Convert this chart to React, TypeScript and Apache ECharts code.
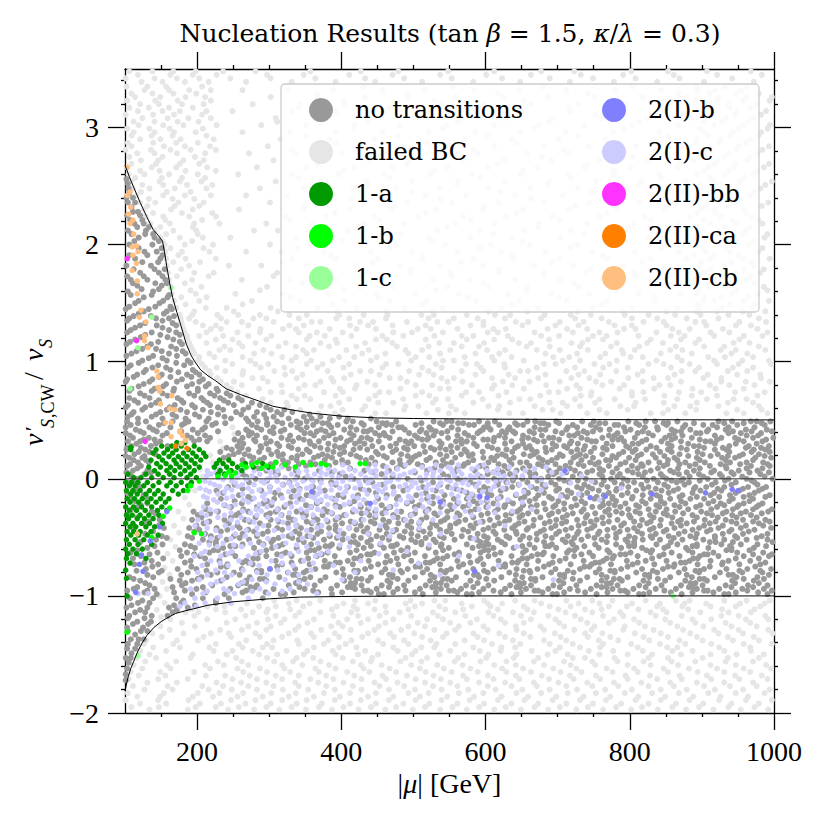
import React, { useEffect, useRef } from 'react';
import * as echarts from 'echarts';

const FONT = '"Liberation Serif", "DejaVu Serif", serif';
const TEXT_FONT = '"DejaVu Serif", "Liberation Serif", serif';

// ---------- axis ticks ----------
const X_MAJOR = [200, 400, 600, 800, 1000];
const X_MINOR = [150, 250, 300, 350, 450, 500, 550, 650, 700, 750, 850, 900, 950];
const Y_MAJOR = [-2, -1, 0, 1, 2, 3];
const Y_MINOR = [-1.8, -1.6, -1.4, -1.2, -0.8, -0.6, -0.4, -0.2, 0.2, 0.4, 0.6, 0.8, 1.2, 1.4, 1.6, 1.8, 2.2, 2.4, 2.6, 2.8, 3.2, 3.4];

// ---------- boundary curves ----------
const upperCurve = [[100, 2.68], [106, 2.58], [112, 2.49], [121, 2.36], [130, 2.24], [139, 2.13], [146, 2.08], [152, 2.03], [155, 1.93], [158, 1.81], [162, 1.67], [166, 1.55], [172, 1.42], [178, 1.3], [185, 1.15], [192, 1.05], [198, 0.99], [205, 0.93], [215, 0.88], [225, 0.84], [240, 0.77], [260, 0.72], [283, 0.67], [305, 0.62], [330, 0.59], [360, 0.56], [400, 0.535], [450, 0.52], [500, 0.515], [600, 0.51], [800, 0.505], [1000, 0.503]];
const lowerCurve = [[100, -1.81], [104, -1.7], [108, -1.62], [112, -1.56], [118, -1.47], [124, -1.4], [130, -1.34], [140, -1.27], [150, -1.22], [158, -1.19], [170, -1.15], [182, -1.13], [195, -1.11], [215, -1.08], [250, -1.05], [300, -1.025], [343, -1.01], [400, -1.005], [500, -1.0], [1000, -1.0]];
const zeroLine = [[100, 0], [1000, 0]];

// ---------- scatter data: rows of [y, x-values] ----------
type Rows = [number, number[]][];

const noTransitionsRows: Rows = [
  [2.56, [102]], [2.52, [104]], [2.48, [105]], [2.44, [106]], [2.4, [102, 111]], [2.36, [104, 114]], [2.32, [109]], [2.28, [111, 118]],
  [2.25, [103, 121]], [2.21, [107, 124]], [2.18, [113, 126]], [2.15, [117, 133]], [2.12, [104, 129]], [2.09, [109, 128, 139]],
  [2.06, [119, 141]], [2.03, [113, 147]], [2.0, [106, 138]], [1.97, [119, 151]], [1.94, [127, 144]], [1.91, [106, 131, 152]],
  [1.88, [114, 149]], [1.85, [124, 146]], [1.82, [102, 136]], [1.79, [112, 141, 155]], [1.76, [121, 147]], [1.73, [103, 126, 152]],
  [1.7, [108, 131, 156]], [1.67, [111, 142, 158]], [1.65, [117, 151]], [1.62, [123, 147]], [1.6, [104, 139]], [1.57, [108, 137, 161]],
  [1.55, [126, 159]], [1.52, [119, 153]], [1.5, [114, 148]], [1.47, [106, 142, 163]], [1.45, [101, 133, 165]], [1.43, [126, 158]],
  [1.41, [119, 154]], [1.39, [112, 136, 168]], [1.37, [106, 143, 161]], [1.35, [103, 152]], [1.33, [128, 166]], [1.31, [121, 144, 171]],
  [1.29, [114, 152]], [1.27, [108, 161]], [1.25, [103, 137, 171]], [1.23, [128, 149, 176]], [1.21, [122, 159]], [1.19, [114, 167]],
  [1.17, [107, 146, 176]], [1.15, [102, 136, 179]], [1.13, [131, 164]], [1.11, [124, 143, 171]], [1.09, [116, 151, 180]],
  [1.07, [109, 161, 184]], [1.05, [102, 139, 172]], [1.03, [133, 152]], [1.01, [124, 158, 187]], [0.99, [119, 171, 191]],
  [0.97, [108, 146, 182]], [0.95, [104, 138, 157]], [0.93, [129, 163, 194]], [0.91, [126, 174, 198]], [0.89, [117, 151, 186, 203]],
  [0.87, [112, 147, 163, 192]], [0.85, [103, 138, 179, 208]], [0.83, [101, 134, 172, 203]], [0.81, [126, 157, 193, 216]],
  [0.79, [119, 153, 186, 212]], [0.77, [109, 141, 168, 201, 227]], [0.75, [106, 137, 167, 201, 229]], [0.73, [121, 152, 189, 218, 241]],
  [0.71, [127, 159, 196, 224, 246]], [0.69, [106, 134, 173, 206, 232, 257]], [0.67, [113, 147, 178, 209, 237, 262]],
  [0.65, [118, 143, 181, 214, 243, 276]], [0.63, [104, 136, 169, 193, 218, 251, 287]],
  [0.61, [101, 128, 162, 197, 229, 271, 296]], [0.59, [124, 158, 177, 208, 236, 264, 302, 321]],
  [0.57, [112, 149, 186, 219, 254, 283, 311, 332]], [0.55, [109, 143, 166, 197, 229, 261, 293, 317, 356]],
  [0.53, [104, 137, 171, 203, 238, 279, 306, 348, 371, 397]], [0.515, [118, 152, 184, 216, 247, 268, 296, 327, 359, 384, 409, 441]],
  [0.49, [103, 129, 166, 188, 213, 271, 284, 311, 338, 352, 366, 407, 416, 449, 476, 528, 546, 553, 591, 613, 658, 669, 698, 734, 750, 798, 822, 835, 866, 923, 942, 968, 976, 995]],
  [0.475, [118, 154, 183, 226, 239, 297, 318, 343, 374, 381, 428, 457, 463, 511, 537, 562, 569, 603, 641, 676, 681, 702, 758, 766, 809, 847, 853, 889, 931, 958, 983]],
  [0.46, [108, 147, 179, 221, 276, 297, 330, 361, 383, 395, 431, 462, 470, 503, 541, 577, 584, 619, 644, 652, 687, 721, 746, 779, 784, 813, 851, 877, 902, 915, 949, 987]],
  [0.44, [101, 134, 163, 211, 283, 306, 339, 352, 386, 413, 452, 479, 484, 522, 553, 598, 604, 633, 668, 714, 727, 753, 792, 821, 838, 874, 921, 937, 973]],
  [0.42, [115, 139, 194, 207, 268, 289, 321, 344, 372, 404, 421, 441, 488, 511, 525, 562, 596, 607, 631, 676, 683, 712, 759, 772, 801, 839, 858, 884, 909, 933, 961, 990]],
  [0.405, [121, 144, 178, 229, 271, 301, 316, 366, 378, 431, 436, 471, 509, 531, 547, 592, 623, 638, 661, 697, 736, 749, 794, 818, 863, 871, 907, 943, 969, 997]],
  [0.39, [101, 126, 158, 201, 257, 276, 306, 349, 357, 389, 412, 447, 459, 494, 518, 539, 571, 589, 628, 641, 667, 706, 728, 741, 783, 811, 826, 861, 892, 898, 937, 954, 982]],
  [0.37, [107, 152, 186, 211, 272, 283, 329, 362, 383, 417, 453, 461, 502, 528, 561, 576, 619, 652, 678, 716, 723, 771, 779, 832, 855, 873, 918, 962, 978]],
  [0.35, [111, 133, 192, 218, 263, 295, 317, 341, 376, 399, 428, 436, 467, 506, 521, 548, 583, 612, 627, 659, 688, 694, 733, 762, 788, 807, 849, 863, 886, 927, 946, 971, 999]],
  [0.335, [126, 141, 203, 252, 279, 326, 348, 392, 413, 441, 481, 512, 519, 566, 597, 603, 651, 667, 702, 741, 776, 784, 823, 858, 897, 921, 951, 989]],
  [0.32, [104, 121, 149, 196, 214, 259, 281, 302, 333, 356, 369, 408, 425, 452, 489, 497, 536, 559, 574, 611, 636, 672, 681, 719, 747, 753, 792, 817, 844, 871, 905, 912, 958, 984]],
  [0.3, [116, 143, 264, 296, 311, 357, 382, 419, 432, 476, 493, 539, 567, 584, 627, 652, 693, 717, 728, 768, 804, 812, 853, 881, 918, 947, 976]],
  [0.28, [109, 136, 159, 256, 288, 314, 327, 363, 391, 404, 443, 468, 501, 514, 552, 588, 603, 645, 661, 698, 709, 738, 776, 795, 829, 858, 889, 896, 938, 965, 993]],
  [0.265, [103, 122, 241, 262, 289, 331, 371, 398, 426, 457, 487, 524, 537, 561, 609, 641, 656, 683, 713, 751, 763, 799, 837, 871, 903, 929, 961, 982]],
  [0.25, [102, 128, 248, 271, 299, 340, 352, 381, 417, 436, 476, 492, 529, 545, 571, 617, 629, 664, 692, 727, 736, 768, 808, 823, 853, 879, 918, 934, 972, 988]],
  [0.23, [119, 134, 232, 258, 286, 311, 356, 389, 404, 448, 471, 516, 553, 574, 596, 637, 671, 684, 719, 746, 791, 804, 842, 858, 894, 938, 969, 994]],
  [0.21, [113, 142, 251, 266, 303, 319, 346, 374, 398, 413, 451, 483, 508, 537, 566, 582, 623, 653, 667, 703, 731, 762, 785, 816, 832, 869, 901, 922, 957, 979]],
  [0.195, [101, 127, 244, 273, 313, 339, 368, 381, 421, 459, 492, 503, 546, 577, 616, 628, 662, 707, 726, 739, 776, 811, 848, 881, 912, 936, 952, 987]],
  [0.18, [106, 124, 237, 278, 293, 331, 362, 387, 426, 442, 463, 499, 523, 558, 597, 608, 639, 674, 699, 722, 749, 781, 799, 836, 862, 893, 928, 946, 974, 996]],
  [0.16, [112, 129, 263, 287, 319, 338, 377, 401, 434, 481, 497, 518, 541, 583, 612, 633, 679, 692, 733, 767, 773, 808, 853, 866, 897, 933, 971]],
  [0.14, [118, 133, 276, 309, 326, 357, 392, 409, 447, 471, 494, 531, 553, 576, 604, 648, 657, 686, 718, 745, 757, 794, 826, 841, 877, 904, 939, 962, 985]],
  [0.125, [107, 302, 341, 364, 402, 438, 482, 506, 546, 571, 618, 636, 673, 697, 729, 752, 787, 816, 852, 869, 891, 926, 953, 991]],
  [0.11, [103, 122, 318, 351, 383, 458, 487, 512, 539, 569, 593, 626, 661, 679, 711, 736, 771, 803, 818, 847, 883, 911, 933, 968, 994]],
  [0.09, [117, 284, 327, 412, 477, 529, 561, 601, 631, 652, 703, 717, 758, 782, 811, 839, 867, 897, 934, 962, 984]],
  [0.07, [111, 131, 296, 337, 369, 432, 466, 519, 585, 618, 643, 688, 724, 748, 763, 797, 829, 856, 889, 917, 951, 977]],
  [0.055, [102, 136, 308, 387, 444, 502, 557, 611, 624, 661, 698, 712, 741, 776, 804, 821, 861, 879, 913, 941, 966, 993]],
  [0.04, [107, 127, 263, 312, 398, 456, 541, 603, 634, 669, 694, 731, 758, 786, 812, 843, 868, 896, 925, 944, 981]],
  [0.02, [109, 268, 339, 406, 471, 548, 593, 641, 663, 687, 721, 762, 783, 818, 846, 883, 902, 928, 956, 987]],
  [0.0, [116, 281, 349, 417, 492, 561, 612, 651, 677, 702, 739, 774, 791, 833, 851, 874, 908, 937, 962, 998]],
  [-0.015, [113, 297, 371, 434, 511, 567, 619, 638, 672, 709, 728, 764, 797, 824, 858, 871, 897, 932, 969]],
  [-0.03, [104, 272, 328, 386, 443, 527, 579, 629, 658, 691, 716, 752, 779, 806, 839, 865, 882, 919, 947, 973]],
  [-0.05, [106, 252, 319, 392, 457, 537, 586, 617, 646, 679, 697, 737, 761, 789, 816, 848, 876, 914, 941, 977]],
  [-0.07, [121, 243, 301, 361, 409, 472, 513, 548, 598, 637, 664, 683, 727, 743, 769, 798, 826, 853, 891, 906, 931, 964, 989]],
  [-0.085, [118, 263, 342, 427, 492, 559, 604, 628, 671, 702, 733, 748, 782, 819, 836, 867, 889, 922, 957, 984]],
  [-0.1, [112, 227, 289, 334, 377, 438, 486, 531, 567, 592, 621, 654, 698, 714, 757, 781, 809, 844, 861, 898, 927, 952, 979]],
  [-0.12, [103, 236, 308, 361, 448, 517, 574, 603, 659, 681, 719, 741, 771, 797, 829, 854, 887, 917, 947, 973]],
  [-0.14, [126, 258, 316, 352, 396, 423, 463, 504, 543, 582, 608, 642, 673, 706, 733, 764, 789, 818, 837, 873, 912, 939, 966, 994]],
  [-0.155, [129, 271, 331, 403, 479, 527, 591, 621, 654, 688, 713, 754, 776, 804, 842, 869, 893, 924, 958, 988]],
  [-0.17, [108, 233, 276, 307, 343, 389, 451, 477, 519, 556, 574, 617, 649, 669, 692, 724, 751, 776, 803, 829, 856, 884, 903, 943, 971]],
  [-0.19, [114, 252, 297, 371, 418, 498, 541, 583, 602, 632, 661, 701, 733, 762, 781, 817, 843, 871, 916, 938, 966]],
  [-0.21, [131, 214, 262, 292, 329, 366, 412, 436, 491, 527, 561, 589, 611, 638, 681, 709, 738, 771, 794, 822, 848, 877, 909, 926, 958, 984]],
  [-0.225, [122, 238, 303, 351, 392, 456, 508, 551, 576, 627, 652, 671, 697, 726, 763, 779, 809, 837, 862, 898, 931, 951, 979]],
  [-0.24, [118, 247, 283, 321, 358, 398, 427, 468, 502, 538, 569, 601, 626, 663, 694, 719, 748, 759, 787, 813, 841, 869, 892, 921, 949, 976]],
  [-0.26, [109, 212, 264, 312, 376, 437, 462, 521, 553, 586, 617, 648, 683, 709, 736, 771, 798, 826, 851, 881, 913, 943, 971, 997]],
  [-0.28, [137, 195, 229, 271, 309, 338, 381, 416, 447, 483, 517, 547, 579, 613, 644, 671, 701, 733, 766, 781, 808, 836, 863, 899, 934, 961, 992]],
  [-0.295, [142, 218, 258, 301, 346, 387, 428, 457, 502, 529, 561, 603, 636, 659, 692, 721, 752, 789, 814, 847, 874, 907, 929, 954, 983]],
  [-0.31, [103, 201, 254, 296, 317, 351, 374, 404, 439, 472, 496, 533, 564, 594, 628, 651, 688, 713, 741, 772, 799, 828, 852, 887, 914, 942, 968]],
  [-0.33, [117, 206, 247, 281, 327, 362, 397, 447, 478, 518, 547, 583, 617, 647, 676, 707, 739, 762, 801, 833, 859, 893, 922, 948, 976]],
  [-0.35, [148, 193, 238, 266, 302, 333, 367, 392, 428, 458, 487, 511, 543, 572, 606, 633, 667, 698, 727, 754, 783, 817, 843, 871, 904, 933, 957, 988]],
  [-0.365, [133, 217, 273, 313, 352, 381, 413, 441, 466, 497, 538, 563, 596, 627, 654, 689, 712, 746, 771, 806, 829, 867, 889, 919, 941, 971, 994]],
  [-0.38, [126, 209, 244, 287, 326, 359, 401, 419, 446, 479, 508, 526, 559, 587, 619, 646, 682, 706, 737, 763, 792, 824, 858, 879, 911, 948, 979]],
  [-0.4, [147, 199, 256, 299, 338, 369, 392, 427, 461, 492, 532, 551, 579, 612, 641, 666, 697, 729, 751, 788, 814, 842, 871, 903, 929, 961, 985]],
  [-0.42, [154, 189, 227, 259, 311, 344, 383, 411, 436, 463, 497, 523, 551, 583, 604, 637, 659, 691, 719, 747, 778, 806, 833, 862, 896, 923, 954, 996]],
  [-0.435, [112, 203, 242, 271, 318, 358, 392, 421, 453, 476, 508, 537, 569, 597, 626, 657, 681, 711, 741, 769, 797, 828, 851, 887, 912, 941, 973]],
  [-0.45, [139, 196, 233, 279, 298, 336, 372, 395, 431, 472, 488, 514, 546, 576, 611, 642, 676, 702, 729, 758, 786, 811, 847, 876, 907, 938, 965]],
  [-0.47, [128, 211, 263, 291, 342, 367, 403, 438, 463, 497, 523, 553, 589, 614, 643, 671, 698, 727, 756, 781, 817, 836, 868, 893, 929, 957, 991]],
  [-0.49, [151, 187, 219, 251, 283, 327, 353, 384, 417, 449, 481, 506, 537, 567, 598, 629, 652, 683, 714, 742, 769, 799, 829, 854, 884, 918, 946, 983]],
  [-0.505, [158, 193, 228, 259, 313, 332, 361, 394, 427, 457, 486, 517, 542, 579, 603, 633, 661, 692, 723, 751, 781, 807, 831, 861, 891, 918, 949, 976]],
  [-0.52, [143, 208, 241, 272, 306, 341, 376, 402, 441, 466, 497, 528, 557, 588, 617, 648, 671, 707, 733, 761, 794, 818, 842, 873, 902, 931, 962, 991]],
  [-0.54, [121, 217, 226, 286, 303, 348, 413, 419, 436, 503, 511, 531, 593, 601, 622, 681, 711, 719, 768, 797, 806, 857, 911, 919, 943, 998]],
  [-0.56, [152, 183, 226, 263, 292, 319, 358, 387, 423, 454, 477, 511, 539, 574, 604, 627, 661, 692, 721, 752, 781, 806, 837, 866, 893, 927, 954, 977]],
  [-0.575, [141, 191, 246, 253, 313, 378, 384, 441, 469, 472, 538, 591, 598, 651, 683, 688, 737, 799, 806, 853, 887, 893, 939, 989]],
  [-0.59, [131, 197, 236, 279, 304, 338, 369, 397, 431, 459, 492, 521, 549, 582, 611, 639, 668, 698, 726, 757, 788, 817, 848, 878, 909, 941, 972]],
  [-0.61, [117, 176, 223, 229, 296, 357, 363, 421, 483, 491, 541, 598, 604, 656, 716, 723, 769, 823, 831, 881, 934, 941, 966]],
  [-0.63, [108, 145, 186, 217, 248, 286, 323, 352, 381, 412, 446, 473, 502, 531, 563, 593, 621, 652, 681, 713, 744, 772, 801, 829, 858, 887, 916, 949, 985]],
  [-0.645, [134, 196, 239, 311, 318, 373, 436, 441, 493, 557, 563, 613, 672, 679, 733, 787, 794, 847, 903, 908, 971, 997]],
  [-0.66, [122, 178, 204, 253, 296, 331, 366, 391, 427, 463, 487, 516, 547, 577, 604, 636, 664, 694, 723, 749, 778, 811, 841, 869, 897, 923, 958, 993]],
  [-0.68, [111, 153, 211, 278, 284, 354, 418, 424, 477, 533, 541, 593, 651, 658, 711, 768, 776, 831, 888, 894, 947, 979]],
  [-0.7, [137, 191, 231, 268, 309, 344, 377, 409, 438, 468, 497, 528, 561, 589, 618, 646, 673, 703, 736, 763, 796, 822, 851, 883, 912, 937, 967]],
  [-0.715, [127, 183, 263, 271, 331, 392, 398, 461, 517, 523, 579, 637, 644, 693, 752, 758, 811, 871, 877, 929, 988]],
  [-0.73, [113, 146, 214, 242, 277, 318, 356, 384, 416, 451, 479, 508, 537, 569, 597, 627, 657, 688, 718, 747, 774, 804, 834, 862, 894, 928, 952, 981]],
  [-0.75, [138, 192, 233, 241, 311, 376, 381, 441, 503, 509, 563, 621, 627, 681, 737, 744, 797, 853, 861, 911, 974]],
  [-0.77, [129, 173, 199, 262, 301, 336, 364, 402, 433, 461, 492, 519, 552, 583, 611, 643, 672, 697, 731, 758, 788, 817, 846, 876, 903, 934, 963, 996]],
  [-0.785, [116, 151, 213, 283, 289, 352, 418, 423, 482, 538, 546, 598, 653, 661, 714, 773, 779, 832, 891, 897, 952, 981]],
  [-0.8, [147, 187, 228, 251, 289, 326, 348, 393, 422, 456, 484, 513, 544, 574, 603, 633, 662, 691, 722, 753, 779, 809, 838, 868, 896, 925, 956, 984]],
  [-0.82, [131, 178, 219, 259, 333, 338, 403, 466, 471, 524, 584, 589, 642, 703, 709, 761, 821, 827, 879, 937, 943, 993]],
  [-0.84, [106, 139, 206, 241, 273, 314, 357, 378, 412, 441, 471, 502, 529, 559, 591, 622, 651, 679, 709, 741, 768, 797, 827, 856, 886, 918, 948, 977]],
  [-0.855, [112, 163, 201, 287, 293, 349, 421, 428, 478, 541, 547, 601, 663, 669, 721, 778, 786, 839, 897, 903, 958, 986]],
  [-0.87, [121, 176, 193, 233, 268, 296, 342, 371, 404, 437, 464, 493, 523, 553, 579, 612, 641, 669, 702, 731, 761, 789, 819, 849, 877, 907, 942, 972]],
  [-0.89, [128, 184, 262, 268, 337, 413, 419, 468, 531, 538, 589, 647, 653, 708, 768, 774, 826, 884, 891, 946, 979]],
  [-0.91, [134, 179, 221, 257, 283, 327, 363, 394, 428, 456, 487, 517, 546, 573, 604, 634, 663, 694, 726, 754, 783, 813, 844, 871, 901, 933, 964, 991]],
  [-0.925, [117, 166, 208, 274, 281, 342, 409, 414, 466, 526, 531, 583, 643, 648, 703, 761, 768, 822, 882, 887, 941, 971]],
  [-0.94, [112, 141, 199, 246, 306, 349, 386, 419, 449, 478, 509, 538, 566, 597, 627, 656, 687, 717, 746, 776, 805, 836, 864, 893, 924, 956, 986]],
  [-0.955, [103, 131, 183, 268, 276, 361, 431, 437, 489, 549, 556, 611, 668, 673, 728, 787, 793, 848, 903, 908, 963, 997]],
  [-0.97, [127, 168, 212, 263, 295, 334, 368, 401, 441, 472, 502, 531, 561, 591, 621, 649, 679, 709, 738, 769, 797, 827, 857, 887, 916, 947, 978]],
  [-0.985, [144, 193, 238, 316, 322, 387, 452, 459, 513, 574, 581, 636, 693, 699, 754, 813, 819, 872, 931, 937, 991]],
  [-1.02, [107, 139, 171, 208, 244, 291]], [-1.04, [124, 181, 226]], [-1.06, [118, 134, 178, 226]], [-1.08, [109, 168, 197]],
  [-1.1, [102, 131, 161, 187]], [-1.12, [121, 172]], [-1.14, [114, 128, 166]], [-1.17, [106, 137, 159]], [-1.19, [104, 127]],
  [-1.22, [117, 136]], [-1.24, [111, 132]], [-1.27, [103, 125]], [-1.3, [104, 122, 131]], [-1.33, [114]],
  [-1.37, [108, 119, 126]], [-1.41, [104, 117]], [-1.45, [103, 114]], [-1.49, [109]], [-1.53, [101, 108]], [-1.57, [105]],
  [-1.62, [103]], [-1.67, [101]], [-1.72, [101]],
];

const failedBCRows: Rows = [
  [0.56, [368, 391, 447, 462, 518, 549, 571, 633, 652, 704, 741, 768, 829, 846, 877, 934, 958, 991]],
  [0.59, [343, 402, 429, 487, 534, 559, 617, 679, 693, 758, 797, 853, 892, 949, 983]],
  [0.62, [326, 372, 385, 433, 489, 507, 552, 604, 619, 668, 713, 731, 787, 806, 862, 884, 923, 979]],
  [0.65, [302, 324, 397, 451, 472, 527, 583, 634, 689, 707, 752, 808, 847, 893, 936, 971]],
  [0.68, [291, 338, 357, 411, 438, 486, 531, 548, 596, 647, 662, 724, 758, 779, 821, 866, 907, 944, 962]],
  [0.71, [268, 331, 349, 392, 447, 503, 522, 567, 618, 676, 732, 746, 803, 848, 886, 921, 977]],
  [0.74, [256, 302, 318, 376, 402, 453, 466, 512, 573, 591, 629, 688, 701, 747, 803, 819, 868, 899, 946, 987]],
  [0.77, [247, 286, 341, 398, 419, 482, 537, 549, 609, 653, 713, 731, 786, 834, 887, 919, 958]],
  [0.8, [241, 262, 317, 349, 364, 421, 447, 503, 526, 581, 612, 637, 684, 726, 762, 792, 841, 856, 911, 938, 973]],
  [0.83, [233, 251, 298, 371, 389, 436, 491, 547, 568, 624, 661, 703, 753, 774, 818, 871, 927, 961, 994]],
  [0.86, [228, 277, 291, 338, 386, 404, 467, 482, 539, 556, 609, 641, 673, 719, 744, 798, 833, 853, 902, 927, 982]],
  [0.89, [219, 263, 322, 346, 413, 453, 508, 528, 586, 632, 683, 729, 759, 811, 862, 908, 949, 981]],
  [0.92, [217, 239, 264, 307, 332, 381, 426, 441, 494, 521, 567, 597, 648, 659, 712, 737, 781, 818, 872, 891, 936, 963]],
  [0.95, [211, 227, 288, 321, 367, 403, 457, 512, 539, 593, 627, 671, 724, 763, 797, 857, 896, 943, 971]],
  [0.98, [207, 249, 281, 299, 352, 374, 411, 462, 479, 531, 573, 588, 626, 681, 697, 751, 772, 826, 847, 883, 921, 951, 996]],
  [1.01, [202, 239, 274, 331, 358, 388, 441, 497, 541, 556, 612, 653, 707, 731, 782, 837, 872, 917, 956, 993]],
  [1.04, [203, 224, 263, 318, 337, 397, 418, 449, 503, 522, 571, 609, 636, 694, 716, 759, 801, 818, 866, 909, 932, 971]],
  [1.07, [196, 217, 279, 303, 352, 429, 461, 493, 537, 586, 619, 683, 727, 766, 791, 843, 886, 941, 963]],
  [1.1, [194, 231, 246, 292, 347, 362, 407, 438, 489, 512, 551, 602, 627, 671, 703, 742, 789, 807, 856, 873, 926, 947, 988]],
  [1.13, [191, 238, 263, 313, 337, 383, 421, 477, 521, 567, 591, 657, 689, 731, 774, 813, 864, 903, 931, 979]],
  [1.16, [189, 213, 258, 281, 323, 371, 394, 433, 471, 536, 556, 598, 646, 663, 719, 734, 782, 824, 846, 891, 944, 966]],
  [1.19, [187, 226, 249, 296, 352, 392, 448, 463, 517, 574, 612, 637, 688, 742, 763, 829, 871, 896, 952]],
  [1.22, [186, 203, 236, 271, 303, 356, 377, 414, 457, 486, 529, 567, 583, 631, 677, 702, 749, 768, 812, 857, 876, 917, 958, 984]],
  [1.25, [183, 213, 256, 287, 341, 366, 402, 472, 498, 541, 603, 617, 668, 721, 758, 783, 837, 868, 912, 938, 991]],
  [1.28, [181, 219, 233, 288, 319, 337, 384, 421, 448, 506, 524, 561, 611, 628, 686, 713, 741, 792, 808, 859, 883, 929, 977]],
  [1.31, [179, 208, 226, 271, 328, 348, 412, 437, 471, 517, 579, 597, 651, 697, 729, 779, 803, 851, 906, 947, 968]],
  [1.34, [178, 198, 241, 262, 306, 359, 371, 426, 444, 491, 533, 549, 597, 642, 659, 703, 736, 771, 819, 847, 891, 903, 952, 989]],
  [1.37, [177, 189, 233, 278, 296, 341, 393, 411, 462, 521, 556, 589, 627, 677, 724, 761, 803, 838, 879, 923, 979]],
  [1.4, [176, 193, 228, 257, 287, 328, 352, 397, 431, 464, 511, 528, 574, 613, 634, 682, 718, 746, 793, 826, 863, 898, 937, 966]],
  [1.43, [196, 251, 312, 394, 463, 527, 604, 658, 727, 791, 851, 893, 921, 957, 988]],
  [1.46, [171, 212, 241, 302, 367, 421, 488, 541, 622, 673, 749, 803, 866, 897, 928, 969]],
  [1.49, [184, 263, 388, 512, 637, 761, 893, 938, 974]],
  [1.52, [168, 203, 276, 343, 404, 467, 518, 587, 646, 712, 768, 834, 902, 917, 958, 993]],
  [1.55, [178, 213, 329, 451, 576, 702, 834, 903, 927, 964]],
  [1.58, [165, 198, 253, 319, 381, 449, 502, 563, 631, 691, 744, 812, 871, 893, 941, 977]],
  [1.61, [191, 287, 404, 531, 657, 782, 896, 948, 991]],
  [1.64, [163, 206, 297, 362, 426, 471, 547, 604, 657, 729, 786, 852, 909, 933, 986]],
  [1.67, [183, 346, 471, 597, 723, 851, 907, 938, 973]],
  [1.7, [161, 193, 262, 328, 391, 453, 527, 578, 641, 703, 761, 827, 891, 918, 962]],
  [1.73, [172, 216, 306, 427, 553, 681, 808, 894, 929, 967]],
  [1.76, [160, 196, 223, 311, 372, 437, 496, 551, 619, 681, 739, 806, 863, 903, 947, 981]],
  [1.79, [178, 369, 497, 619, 746, 871, 912, 958, 986]],
  [1.82, [158, 189, 244, 289, 351, 418, 482, 536, 597, 667, 722, 791, 848, 896, 931, 972]],
  [1.85, [167, 204, 319, 443, 566, 692, 817, 899, 941, 969]],
  [1.88, [157, 184, 226, 331, 393, 451, 512, 583, 638, 702, 769, 829, 879, 912, 957, 994]],
  [1.91, [174, 386, 512, 638, 763, 889, 917, 951]],
  [1.94, [156, 179, 217, 268, 318, 376, 441, 498, 561, 622, 683, 748, 807, 868, 906, 938, 978]],
  [1.97, [163, 209, 339, 467, 593, 718, 843, 901, 933, 984]],
  [2.0, [155, 183, 222, 301, 357, 427, 476, 544, 607, 661, 727, 787, 851, 893, 924, 965]],
  [2.03, [152, 193, 401, 527, 651, 778, 904, 946, 972]],
  [2.06, [149, 176, 208, 246, 337, 389, 452, 521, 579, 637, 704, 763, 826, 889, 943, 987]],
  [2.09, [157, 201, 359, 483, 611, 737, 863, 912, 956, 991]],
  [2.12, [141, 167, 199, 279, 312, 409, 466, 533, 592, 654, 718, 779, 842, 901, 922, 961]],
  [2.15, [149, 194, 423, 547, 673, 798, 894, 931, 967]],
  [2.18, [135, 162, 196, 231, 296, 361, 431, 487, 558, 613, 674, 741, 806, 867, 911, 949, 984]],
  [2.21, [156, 207, 328, 453, 579, 703, 829, 902, 942, 978]],
  [2.24, [129, 153, 189, 226, 322, 379, 446, 507, 569, 629, 693, 758, 821, 884, 926, 971]],
  [2.27, [139, 179, 221, 391, 517, 643, 768, 893, 919, 962]],
  [2.3, [126, 164, 194, 258, 347, 412, 469, 531, 597, 652, 716, 782, 849, 899, 917, 958]],
  [2.33, [131, 169, 203, 349, 474, 598, 724, 851, 906, 937, 983]],
  [2.36, [121, 142, 174, 209, 301, 366, 433, 491, 554, 618, 681, 744, 813, 862, 908, 944, 992]],
  [2.39, [133, 166, 196, 413, 538, 663, 788, 891, 952]],
  [2.42, [116, 153, 183, 219, 268, 324, 389, 452, 517, 573, 641, 707, 771, 832, 893, 929, 968]],
  [2.45, [122, 158, 191, 372, 497, 621, 747, 873, 913, 941, 973]],
  [2.48, [111, 134, 169, 213, 287, 348, 417, 476, 536, 604, 662, 728, 796, 855, 902, 936, 981]],
  [2.51, [124, 153, 186, 221, 436, 561, 686, 812, 898, 927, 988]],
  [2.54, [108, 148, 176, 206, 309, 372, 434, 498, 562, 627, 688, 753, 816, 879, 917, 953, 997]],
  [2.57, [114, 151, 179, 211, 341, 467, 593, 718, 843, 911, 959]],
  [2.6, [105, 127, 161, 201, 257, 331, 396, 459, 523, 581, 649, 714, 778, 841, 894, 931, 972]],
  [2.63, [121, 148, 184, 226, 403, 529, 652, 778, 903, 937, 976]],
  [2.66, [103, 137, 171, 214, 283, 352, 418, 471, 547, 603, 672, 737, 801, 866, 909, 944, 986]],
  [2.69, [109, 143, 176, 203, 367, 491, 617, 742, 869, 917, 946, 993]],
  [2.72, [122, 146, 181, 209, 306, 368, 439, 494, 568, 626, 691, 758, 824, 888, 921, 963]],
  [2.75, [106, 152, 197, 428, 553, 678, 804, 896, 931, 967]],
  [2.78, [117, 141, 172, 211, 272, 337, 401, 463, 529, 589, 657, 716, 784, 847, 899, 938, 977]],
  [2.81, [101, 136, 163, 191, 226, 331, 459, 584, 709, 836, 904, 948, 984]],
  [2.84, [109, 154, 183, 218, 298, 361, 423, 486, 553, 612, 681, 743, 809, 872, 912, 951, 993]],
  [2.87, [104, 139, 171, 201, 392, 519, 643, 769, 892, 923, 961]],
  [2.9, [121, 149, 177, 223, 316, 384, 446, 508, 571, 636, 701, 766, 834, 893, 926, 968]],
  [2.93, [109, 137, 166, 213, 351, 479, 603, 728, 853, 909, 939, 978]],
  [2.96, [112, 141, 168, 198, 263, 329, 392, 457, 521, 586, 649, 711, 777, 841, 904, 943, 982]],
  [2.99, [103, 134, 162, 208, 417, 541, 667, 792, 897, 951, 991]],
  [3.02, [119, 153, 181, 227, 289, 351, 418, 481, 546, 612, 674, 737, 803, 868, 917, 958, 994]],
  [3.05, [112, 141, 173, 202, 311, 437, 562, 688, 813, 903, 928, 964]],
  [3.08, [124, 159, 188, 219, 309, 374, 436, 503, 567, 628, 694, 761, 824, 886, 933, 971]],
  [3.11, [101, 139, 168, 207, 378, 502, 627, 753, 878, 916, 946, 982]],
  [3.14, [118, 152, 176, 213, 249, 331, 393, 459, 521, 589, 651, 717, 781, 848, 901, 948, 989]],
  [3.17, [106, 133, 161, 194, 341, 466, 591, 716, 843, 907, 939, 968]],
  [3.2, [121, 147, 179, 209, 277, 342, 404, 472, 537, 598, 663, 729, 794, 857, 911, 937, 976]],
  [3.23, [103, 142, 173, 219, 403, 529, 653, 778, 892, 921, 957, 994]],
  [3.26, [114, 149, 184, 211, 302, 367, 433, 492, 559, 624, 687, 751, 818, 878, 923, 962, 997]],
  [3.29, [109, 138, 167, 199, 367, 491, 617, 742, 868, 911, 947, 979]],
  [3.32, [127, 161, 189, 219, 263, 326, 389, 457, 516, 584, 646, 712, 779, 843, 894, 918, 954]],
  [3.35, [102, 131, 157, 207, 431, 554, 679, 804, 893, 932, 963]],
  [3.39, [123, 152, 183, 216, 268, 331, 392, 447, 512, 583, 648, 717, 778, 838, 903, 972]],
  [3.42, [101, 141, 172, 203, 246, 302, 364, 433, 487, 553, 623, 689, 749, 808, 869, 942]],
  [3.45, [118, 163, 194, 227, 297, 348, 411, 471, 537, 601, 663, 732, 791, 861, 921, 983]],
  [3.48, [106, 138, 167, 198, 236, 281, 357, 427, 479, 548, 612, 677, 723, 802, 853, 907, 968]],
  [-1.04, [307, 338, 371, 419, 447, 496, 529, 544, 598, 641, 668, 712, 748, 776, 822, 864, 883, 931, 962, 994]],
  [-1.065, [248, 269, 327, 356, 403, 437, 489, 512, 567, 603, 623, 677, 729, 758, 803, 842, 876, 906, 953, 987]],
  [-1.09, [214, 238, 286, 309, 347, 394, 417, 461, 502, 536, 581, 607, 653, 689, 718, 771, 796, 838, 873, 912, 947, 981]],
  [-1.115, [193, 226, 261, 298, 329, 387, 422, 446, 493, 544, 569, 617, 658, 701, 738, 761, 812, 846, 881, 928, 973]],
  [-1.14, [184, 202, 239, 277, 296, 342, 371, 414, 462, 481, 527, 558, 604, 638, 667, 711, 748, 787, 829, 851, 898, 937, 968]],
  [-1.17, [196, 267, 309, 336, 389, 423, 453, 497, 534, 572, 611, 649, 687, 724, 763, 791, 836, 872, 927, 951, 988]],
  [-1.2, [163, 214, 253, 298, 321, 362, 408, 437, 472, 519, 541, 588, 621, 663, 697, 732, 778, 806, 849, 887, 913, 961, 992]],
  [-1.23, [179, 241, 283, 316, 353, 396, 427, 461, 506, 551, 579, 627, 653, 702, 741, 771, 813, 856, 891, 933, 967]],
  [-1.26, [149, 197, 271, 302, 341, 386, 402, 452, 493, 516, 563, 597, 642, 676, 709, 751, 793, 821, 866, 902, 941, 976]],
  [-1.29, [162, 232, 262, 296, 336, 372, 413, 446, 483, 529, 558, 603, 643, 681, 723, 747, 791, 833, 874, 917, 951, 992]],
  [-1.32, [138, 181, 219, 244, 281, 327, 358, 391, 437, 468, 501, 546, 583, 619, 653, 696, 738, 762, 807, 843, 884, 923, 957, 998]],
  [-1.35, [151, 209, 247, 287, 318, 362, 397, 429, 473, 512, 541, 589, 627, 662, 704, 742, 773, 819, 853, 893, 936, 972]],
  [-1.38, [129, 172, 201, 268, 306, 339, 382, 414, 451, 487, 524, 571, 598, 638, 681, 712, 757, 784, 827, 869, 901, 943, 979]],
  [-1.41, [126, 167, 226, 258, 297, 341, 376, 406, 458, 493, 532, 558, 609, 648, 689, 721, 763, 802, 842, 877, 913, 958, 997]],
  [-1.44, [139, 176, 217, 263, 291, 304, 362, 397, 421, 472, 511, 529, 583, 622, 641, 703, 731, 759, 811, 852, 866, 924, 967]],
  [-1.47, [121, 157, 223, 249, 277, 324, 353, 388, 433, 478, 503, 551, 592, 621, 664, 697, 743, 777, 818, 859, 887, 931, 968]],
  [-1.5, [134, 194, 241, 286, 311, 348, 392, 423, 451, 498, 536, 571, 604, 643, 686, 714, 758, 797, 831, 871, 912, 948, 986]],
  [-1.53, [116, 143, 191, 254, 297, 338, 361, 402, 443, 489, 519, 562, 601, 639, 673, 721, 738, 779, 826, 853, 901, 936, 979]],
  [-1.56, [128, 171, 229, 262, 307, 333, 371, 416, 441, 482, 511, 557, 593, 629, 667, 709, 748, 783, 819, 858, 891, 933, 971]],
  [-1.59, [112, 158, 211, 237, 271, 318, 346, 383, 427, 456, 497, 533, 568, 612, 642, 681, 718, 752, 797, 829, 867, 912, 947, 989]],
  [-1.62, [124, 163, 218, 256, 287, 321, 364, 392, 431, 467, 509, 542, 579, 623, 652, 694, 726, 768, 806, 847, 882, 921, 958, 996]],
  [-1.65, [108, 149, 196, 264, 297, 329, 369, 408, 439, 476, 517, 553, 589, 629, 663, 704, 733, 776, 811, 853, 894, 931, 967]],
  [-1.68, [119, 156, 212, 239, 273, 309, 341, 379, 418, 457, 491, 528, 569, 603, 642, 678, 717, 753, 794, 828, 869, 907, 946, 983]],
  [-1.71, [105, 146, 187, 249, 283, 318, 357, 389, 428, 462, 503, 538, 574, 611, 647, 688, 722, 759, 797, 838, 872, 913, 952, 991]],
  [-1.74, [131, 172, 227, 261, 296, 336, 368, 403, 446, 478, 516, 551, 591, 627, 667, 701, 741, 778, 816, 856, 893, 931, 971]],
  [-1.77, [111, 159, 207, 236, 271, 306, 341, 379, 416, 453, 487, 527, 561, 603, 636, 671, 712, 748, 784, 826, 861, 903, 939, 976]],
  [-1.8, [127, 166, 216, 248, 283, 319, 354, 391, 428, 466, 502, 539, 576, 614, 651, 689, 727, 766, 803, 843, 879, 918, 957, 994]],
  [-1.83, [104, 154, 201, 231, 264, 303, 337, 376, 412, 448, 493, 521, 563, 597, 643, 677, 714, 753, 793, 831, 868, 909, 947, 987]],
  [-1.86, [117, 149, 194, 222, 256, 291, 327, 362, 398, 437, 472, 509, 547, 584, 622, 659, 698, 736, 773, 812, 849, 888, 926, 964]],
  [-1.89, [101, 146, 188, 247, 281, 318, 352, 391, 427, 466, 503, 539, 578, 617, 654, 693, 731, 767, 808, 843, 883, 924, 961, 997]],
  [-1.92, [121, 157, 204, 233, 267, 302, 338, 373, 412, 448, 486, 522, 561, 598, 636, 673, 712, 749, 788, 826, 864, 902, 941, 979]],
  [-1.95, [109, 147, 198, 226, 258, 296, 331, 369, 403, 441, 476, 516, 554, 591, 628, 668, 703, 742, 781, 817, 859, 896, 937, 973]],
  [-1.97, [134, 187, 243, 279, 314, 351, 387, 424, 461, 499, 537, 574, 612, 649, 687, 726, 763, 802, 839, 878, 916, 954, 992]],
  // diagonal strip of failed points inside the band
  [0.44, [249]], [0.38, [252]], [0.32, [232]], [0.26, [236]], [0.2, [218]], [0.14, [222]], [0.08, [204]], [0.02, [208]],
  [-0.04, [192]], [-0.1, [197]], [-0.16, [183]], [-0.22, [189]], [-0.28, [174]], [-0.34, [181]], [-0.4, [168]], [-0.46, [175]],
  [-0.52, [163]], [-0.58, [170]], [-0.64, [159]], [-0.7, [166]], [-0.76, [155]], [-0.82, [162]], [-0.88, [152]], [-0.94, [158]],
  [-1.0, [148]], [-1.06, [155]], [-1.12, [144]], [-1.18, [150]],
];

const twoICRows: Rows = [
  [0.12, [402, 447, 489, 531, 562, 598]],
  [0.1, [223, 318, 371, 463, 512, 548, 589, 633, 684]],
  [0.085, [231, 264, 297, 339, 382, 411, 437, 478, 523, 552, 581, 617, 668]],
  [0.07, [214, 247, 279, 312, 352, 391, 419, 448, 501, 537, 563, 602, 655, 712]],
  [0.055, [226, 259, 302, 341, 372, 402, 441, 463, 496, 528, 554, 611, 641, 692]],
  [0.04, [219, 238, 287, 331, 363, 379, 427, 472, 487, 518, 567, 589, 618, 706]],
  [0.025, [213, 247, 276, 309, 353, 387, 414, 448, 481, 527, 557, 579, 626, 651, 733]],
  [0.01, [229, 256, 301, 322, 371, 396, 434, 461, 509, 536, 584, 596, 638, 668]],
  [-0.005, [236, 268, 297, 336, 358, 412, 441, 479, 517, 546, 572, 622, 677]],
  [-0.02, [211, 248, 289, 311, 347, 361, 402, 424, 468, 497, 551, 603, 614, 747]],
  [-0.035, [218, 253, 293, 327, 372, 393, 437, 462, 503, 538, 568, 591, 631, 718]],
  [-0.05, [224, 263, 279, 318, 339, 386, 426, 452, 489, 521, 559, 576, 647, 683]],
  [-0.065, [231, 257, 301, 331, 358, 407, 446, 481, 497, 534, 587, 612, 662]],
  [-0.08, [204, 241, 271, 352, 369, 398, 419, 461, 507, 518, 553, 624, 788]],
  [-0.095, [212, 248, 286, 313, 342, 386, 432, 451, 492, 526, 563, 607, 677]],
  [-0.11, [217, 238, 276, 301, 327, 371, 406, 457, 473, 539, 571, 596, 653]],
  [-0.13, [229, 263, 294, 341, 367, 402, 436, 472, 511, 553, 581, 643, 729]],
  [-0.15, [209, 249, 291, 336, 358, 379, 416, 449, 493, 521, 562, 589, 704]],
  [-0.165, [214, 241, 279, 318, 363, 386, 423, 462, 497, 534, 577, 618]],
  [-0.18, [223, 264, 294, 347, 372, 393, 431, 482, 511, 603, 631, 758]],
  [-0.2, [228, 271, 304, 338, 367, 411, 447, 491, 522, 563, 594, 651]],
  [-0.22, [237, 253, 286, 323, 381, 404, 426, 476, 542, 578, 617]],
  [-0.24, [209, 244, 297, 331, 358, 392, 439, 466, 513, 557, 604]],
  [-0.26, [218, 282, 311, 344, 367, 417, 448, 503, 591, 664]],
  [-0.275, [226, 263, 289, 352, 373, 421, 477, 519, 572, 637]],
  [-0.29, [206, 247, 274, 328, 386, 434, 462, 537, 613]],
  [-0.31, [213, 238, 283, 316, 361, 407, 448, 497, 581]],
  [-0.33, [229, 261, 298, 347, 394, 472, 558]],
  [-0.35, [201, 247, 271, 311, 336, 379, 431, 489, 527]],
  [-0.37, [213, 256, 279, 319, 361, 418, 508, 592]],
  [-0.4, [197, 239, 292, 337, 373, 454, 627]],
  [-0.42, [214, 249, 283, 327, 366, 411, 508]],
  [-0.44, [226, 268, 307, 352, 398, 471]],
  [-0.47, [209, 253, 284, 331, 383, 437, 538]],
  [-0.49, [232, 267, 319, 357, 396, 467]],
  [-0.51, [219, 247, 298, 346, 409, 584]],
  [-0.55, [203, 236, 274, 323, 367, 454]],
  [-0.565, [217, 251, 291, 338, 398, 522]],
  [-0.58, [228, 262, 309, 352, 411, 643]],
  [-0.62, [211, 248, 289, 341, 382, 491]],
  [-0.64, [206, 243, 281, 329, 371, 452]],
  [-0.66, [196, 233, 271, 317, 364, 563]],
  [-0.7, [219, 258, 303, 348, 427]],
  [-0.72, [232, 274, 318, 361, 507]],
  [-0.74, [207, 243, 286, 333, 389, 618]],
  [-0.78, [226, 264, 312, 358, 472]],
  [-0.8, [201, 238, 283, 327, 419]],
  [-0.82, [214, 248, 297, 341, 537]],
  [-0.86, [203, 236, 276, 322, 401, 694]],
  [-0.88, [227, 264, 296, 341]],
  [-0.9, [219, 258, 308, 353]],
  [-0.94, [191, 237, 287, 329]],
  [-0.96, [214, 243, 276, 318]],
  [-0.98, [118, 132, 208, 252, 299, 366]],
  [-1.02, [197, 228, 271]],
  [-1.06, [183, 211, 246]],
  [-1.09, [176, 199]],
];

const oneARows: Rows = [
  [0.31, [172, 183]], [0.28, [151, 165, 178, 196]], [0.25, [108, 143, 159, 171, 188, 203]],
  [0.22, [139, 154, 166, 181, 194, 209]], [0.19, [147, 161, 174, 186, 199, 212]],
  [0.16, [136, 152, 168, 179, 192, 205, 231, 244]], [0.13, [144, 157, 171, 184, 197, 227, 236, 249, 267, 291]],
  [0.1, [133, 149, 163, 176, 189, 203, 224, 241, 256, 278, 299]], [0.07, [141, 158, 169, 183, 196, 232, 247, 262]],
  [0.04, [104, 129, 146, 162, 177, 191, 229, 238]], [0.01, [112, 122, 137, 153, 168, 186, 199]],
  [-0.03, [101, 109, 118, 131, 147, 163, 178, 192]], [-0.06, [106, 114, 126, 139, 158, 171, 187]],
  [-0.1, [102, 111, 121, 134, 146, 166, 181]], [-0.13, [108, 117, 129, 141, 153, 174]],
  [-0.17, [103, 113, 124, 136, 149, 161]], [-0.2, [107, 119, 131, 143, 156]],
  [-0.24, [101, 112, 123, 137, 151]], [-0.27, [106, 116, 128, 145, 158]], [-0.31, [102, 110, 121, 133, 147]],
  [-0.34, [105, 117, 127, 139]], [-0.38, [101, 111, 123, 134, 152]], [-0.41, [107, 115, 129, 141]],
  [-0.45, [103, 112, 121, 136]], [-0.48, [108, 119, 131, 146]], [-0.52, [102, 114, 126]],
  [-0.56, [106, 118, 137]], [-0.6, [101, 111, 124]], [-0.64, [104, 116]], [-0.68, [102, 129]],
  [-0.72, [107]], [-0.78, [101]], [-0.85, [102]], [-1.0, [103]], [0.27, [108]],
];

const oneBPoints = [[283, 0.14], [309, 0.14], [347, 0.14], [372, 0.13], [426, 0.13], [262, 0.12], [276, 0.12], [296, 0.11], [322, 0.12], [358, 0.12], [379, 0.12], [433, 0.13], [268, 0.1], [289, 0.09], [305, 0.1], [336, 0.1], [244, 0.06], [253, 0.05], [239, 0.03], [248, 0.02], [229, 0.02], [203, -0.02], [191, -0.06], [187, -0.1], [162, -0.25], [153, -0.32], [206, -0.47], [137, -0.5], [196, -0.46], [103, -1.31]];
const oneCPoints = [[164, 1.63], [137, 1.38], [118, 1.12], [107, 0.77], [118, -1.51], [860, -1.0]];
const twoIBPoints = [[158, -0.28], [148, -0.41], [135, -0.53], [123, -0.65], [120, -0.73], [125, -0.79], [115, -0.97], [359, -0.11], [440, -0.21], [537, -0.2], [592, -0.15], [301, -0.77], [585, -0.79], [710, 0.07], [745, -0.16], [766, -0.15], [831, -0.13], [905, -0.12], [942, -0.09], [950, -0.1], [602, -0.16]];
const twoIIbbPoints = [[103, 1.88], [116, 1.18], [128, 0.32]];
const twoIIcaPoints = [[170, 0.28], [186, 0.26]];
const twoIIcbPoints = [[103, 2.66], [103, 2.42], [107, 2.45], [105, 2.26], [108, 2.32], [111, 2.21], [107, 2.18], [112, 2.09], [116, 1.99], [110, 1.98], [111, 1.91], [118, 1.94], [116, 1.84], [110, 1.78], [117, 1.69], [117, 1.58], [122, 1.44], [120, 1.38], [129, 1.34], [127, 1.22], [127, 1.18], [132, 1.12], [144, 0.92], [146, 0.87], [146, 0.78], [148, 0.75], [165, 0.71], [149, 0.64], [162, 0.6], [169, 0.59], [156, 0.48], [164, 0.48], [176, 0.41], [176, 0.4], [180, 0.37], [164, 0.36], [184, 0.33], [178, 0.3], [117, -0.47]];

const fromRows = (rows: Rows) => rows.flatMap(([y, xs]) => xs.map((x) => [x, y]));

function scatter(name: string, color: string, data: number[][], size: number) {
  return {
    name, type: 'scatter', data, symbol: 'circle', symbolSize: size, z: 2,
    itemStyle: { color, opacity: 1 }, silent: true, large: false, progressive: 0,
  };
}
function curve(name: string, data: number[][], color: string) {
  return {
    name, type: 'line', data, showSymbol: false, symbol: 'none', z: 3, silent: true,
    lineStyle: { color, width: 1 }, smooth: false,
  };
}

const lineStyle = { color: '#000', width: 1.3 };
const tickFont = { fontFamily: FONT, fontSize: 28, color: '#000' };

function xAxisDef(position: string, major: boolean, withLine: boolean, labels: boolean) {
  return {
    type: 'value', min: 100, max: 1000, position,
    axisLine: { show: withLine, onZero: false, lineStyle },
    axisTick: { show: true, inside: false, length: major ? 17 : 4, customValues: major ? X_MAJOR : X_MINOR, lineStyle },
    axisLabel: labels ? { show: true, customValues: X_MAJOR, margin: 24, ...tickFont, formatter: (v: number) => String(v) } : { show: false },
    splitLine: { show: false }, minorTick: { show: false },
  };
}
function yAxisDef(position: string, major: boolean, withLine: boolean, labels: boolean) {
  return {
    type: 'value', min: -2, max: 3.5, position,
    axisLine: { show: withLine, onZero: false, lineStyle },
    axisTick: { show: true, inside: false, length: major ? 17 : 4, customValues: major ? Y_MAJOR : Y_MINOR, lineStyle },
    axisLabel: labels
      ? { show: true, customValues: Y_MAJOR, margin: 26, ...tickFont, formatter: (v: number) => (v < 0 ? '\u2212' + Math.abs(v) : String(v)) }
      : { show: false },
    splitLine: { show: false }, minorTick: { show: false },
  };
}

function legendDef(names: string[], left: number) {
  return {
    data: names, orient: 'vertical', left, top: 96, itemWidth: 24, itemHeight: 24, itemGap: 14,
    icon: 'circle', padding: 0, selectedMode: false, z: 4,
    textStyle: { fontFamily: TEXT_FONT, fontSize: 24, color: '#000', lineHeight: 28, padding: [0, 0, 0, 17] },
  };
}

function yLabelText(text: string, x: number, y: number, size: number, italic: boolean) {
  return {
    type: 'text', x, y, silent: true,
    style: { text, fontFamily: FONT, fontSize: size, fontStyle: italic ? 'italic' : 'normal', fill: '#000', align: 'left', verticalAlign: 'middle' },
  };
}

export default function App() {
  const ref = useRef<HTMLDivElement>(null);
  useEffect(() => {
    if (!ref.current) return;
    const chart = echarts.init(ref.current, undefined, { renderer: 'svg' });
    const option = {
      animation: false,
      backgroundColor: '#ffffff',
      title: {
        text: 'Nucleation Results (tan {i|\u03b2} = 1.5, {i|\u03ba}/{i|\u03bb} = 0.3)',
        left: 450, top: 21, textAlign: 'center', padding: 0,
        textStyle: {
          fontFamily: TEXT_FONT, fontSize: 25, fontWeight: 'normal', color: '#000',
          rich: { i: { fontFamily: TEXT_FONT, fontSize: 25, fontStyle: 'italic', color: '#000' } },
        },
      },
      grid: { left: 125, right: 51, top: 69, bottom: 112, containLabel: false },
      xAxis: [
        {
          ...xAxisDef('bottom', true, true, true),
          name: '|{i|\u03bc}| [GeV]', nameLocation: 'middle', nameGap: 55,
          nameTextStyle: { ...tickFont, rich: { i: { ...tickFont, fontStyle: 'italic' } } },
        },
        xAxisDef('bottom', false, false, false),
        xAxisDef('top', true, true, false),
        xAxisDef('top', false, false, false),
      ],
      yAxis: [
        yAxisDef('left', true, true, true),
        yAxisDef('left', false, false, false),
        yAxisDef('right', true, true, false),
        yAxisDef('right', false, false, false),
      ],
      legend: [
        legendDef(['no transitions', 'failed BC', '1-a', '1-b', '1-c'], 309),
        legendDef(['2(I)-b', '2(I)-c', '2(II)-bb', '2(II)-ca', '2(II)-cb'], 602),
      ],
      graphic: {
        elements: [
          {
            type: 'rect', z: 3, silent: true,
            shape: { x: 281, y: 84, width: 478, height: 228, r: 4 },
            style: { fill: 'rgba(255,255,255,0.8)', stroke: '#cccccc', lineWidth: 1.3 },
          },
          {
            type: 'group', x: 43, y: 447, rotation: Math.PI / 2, silent: true,
            children: [
              yLabelText('v', 1, -9.5, 28, true),
              yLabelText('\u2032', 16, -10.5, 22, false),
              yLabelText('S', 19, 5, 18, true),
              yLabelText(',CW', 29, 5, 18, false),
              yLabelText('/', 67, -9.5, 28, false),
              yLabelText('v', 86, -9.5, 28, true),
              yLabelText('S', 99, 3, 18, true),
            ],
          },
        ],
      },
      series: [
        scatter('failed BC', '#e6e6e6', fromRows(failedBCRows), 6),
        scatter('no transitions', '#999999', fromRows(noTransitionsRows), 6),
        scatter('2(I)-c', '#ccccff', fromRows(twoICRows), 5.5),
        scatter('1-c', '#99ff99', oneCPoints, 5.5),
        scatter('1-a', '#009900', fromRows(oneARows), 5.5),
        scatter('1-b', '#00ff00', oneBPoints, 5.5),
        scatter('2(I)-b', '#8080ff', twoIBPoints, 5.5),
        scatter('2(II)-cb', '#ffbf80', twoIIcbPoints, 5.5),
        scatter('2(II)-ca', '#ff8000', twoIIcaPoints, 5.5),
        scatter('2(II)-bb', '#ff33ff', twoIIbbPoints, 5.5),
        curve('upper', upperCurve, '#000'),
        curve('lower', lowerCurve, '#000'),
        curve('zero', zeroLine, '#333333'),
      ],
    };
    chart.setOption(option as any);
    return () => chart.dispose();
  }, []);
  return (
    <div
      ref={ref}
      style={{ position: 'fixed', left: 0, top: 0, width: 825, height: 825, background: '#fff' }}
    />
  );
}
